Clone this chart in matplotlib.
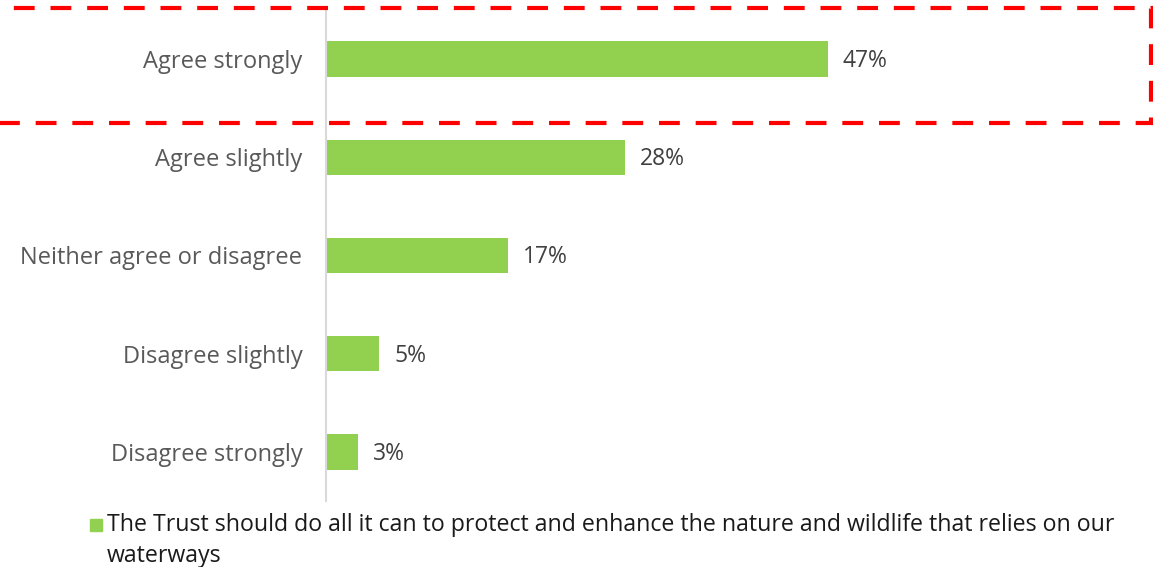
import matplotlib.pyplot as plt
from matplotlib.patches import Rectangle

categories = ["Agree strongly", "Agree slightly", "Neither agree or disagree",
              "Disagree slightly", "Disagree strongly"]
values = [47, 28, 17, 5, 3]
series_name = ("The Trust should do all it can to protect and enhance the nature and wildlife that relies on our\n"
               "waterways")

plt.rcParams['font.family'] = ['Open Sans', 'DejaVu Sans']

W, H = 1153, 567
fig = plt.figure(figsize=(W / 100, H / 100), dpi=100)
ax = fig.add_axes([326 / W, (H - 501) / H, (W - 326) / W, 491 / H])

green = '#92d050'
ypos = list(range(len(categories)))
ax.barh(ypos, values, height=0.36, color=green)
ax.set_ylim(len(categories) - 0.5, -0.5)
ax.set_xlim(0, (W - 326) / 10.68)

for y, v in zip(ypos, values):
    ax.text(v + 1.4, y + 0.02, f"{v}%", va='center', ha='left', fontsize=16.5, color='#404040')

ax.set_yticks(ypos)
ax.set_yticklabels(categories, fontsize=17, color='#595959')
ax.tick_params(axis='y', length=0, pad=17)
ax.set_xticks([])
for s in ['top', 'right', 'bottom']:
    ax.spines[s].set_visible(False)
ax.spines['left'].set_color('#d9d9d9')
ax.spines['left'].set_linewidth(1.5)

# legend
fig.patches.append(Rectangle((90 / W, (H - 531) / H), 12 / W, 12 / H,
                             transform=fig.transFigure, color=green))
fig.text(107 / W, (H - 513) / H, series_name, fontsize=16.7, color='#1a1a1a',
         va='top', ha='left', linespacing=1.4)

# highlight box
rect = Rectangle((-5 / W, (H - 123) / H), 1156 / W, 115 / H, transform=fig.transFigure,
                 fill=False, edgecolor='#ff0000', linewidth=3, clip_on=False)
rect.set_linestyle((0, (5.0, 3.8)))
fig.patches.append(rect)

fig.savefig('out.png', dpi=100)
